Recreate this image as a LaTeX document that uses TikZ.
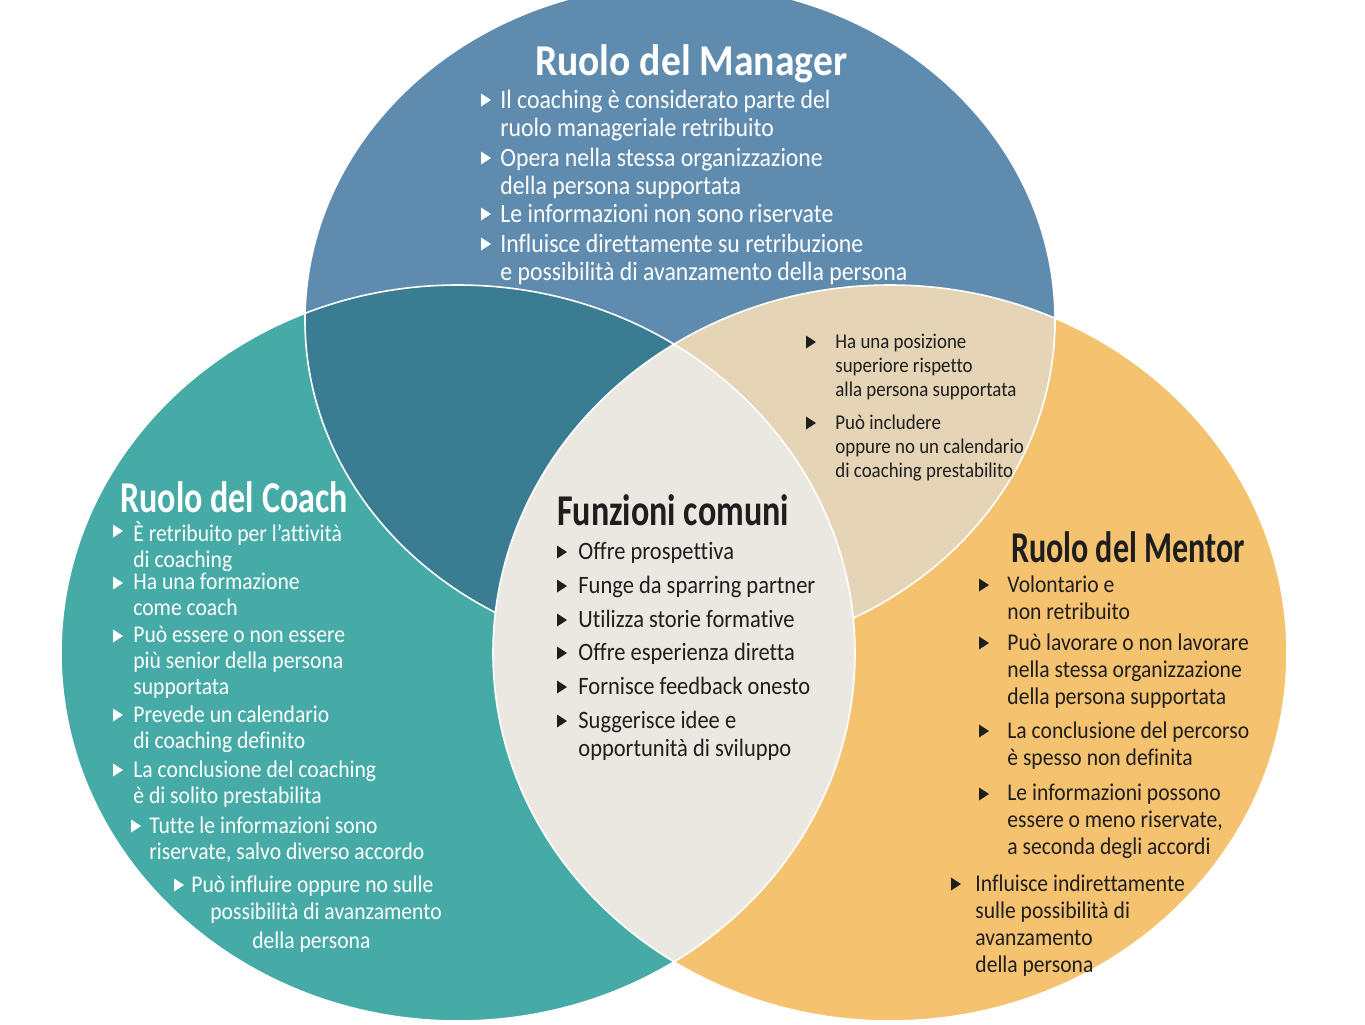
\documentclass[tikz,border=0pt]{standalone}
\usepackage{fontspec}
\setmainfont{Carlito}[FakeStretch=0.9,Ligatures={NoCommon}]
\definecolor{cblue}{HTML}{5F8BAF}
\definecolor{cteal}{HTML}{46AAA6}
\definecolor{corange}{HTML}{F5C26F}
\definecolor{cdark}{HTML}{3A7D93}
\definecolor{cbeige}{HTML}{E5D4B6}
\definecolor{clight}{HTML}{EAE8E1}
\definecolor{ctext}{HTML}{1E1E1E}
\begin{document}
\begin{tikzpicture}[x=0.5pt,y=-0.5pt,
  ttl/.style={inner sep=0pt,font=\bfseries\fontsize{22}{24}\selectfont},
  txt/.style={inner sep=0pt,anchor=north west,align=left,yshift=-2pt,font=\fontsize{12.5}{14}\selectfont},
  wt/.style={text=white}, dk/.style={text=ctext}]
\newcommand\bul[3]{\fill[#3] (#1-4,#2-6.5)--(#1-4,#2+6.5)--(#1+6,#2)--cycle;}
\useasboundingbox (0,0) rectangle (1365,1024);
\fill[white] (0,0) rectangle (1365,1024);
\def\coachE{(458,653) ellipse [x radius=198.5pt, y radius=184pt]}
\def\mentE{(890,653) ellipse [x radius=198.5pt, y radius=184pt]}
\def\manE{(680,320) ellipse [x radius=187.5pt, y radius=168pt]}
\fill[cteal] \coachE;
\fill[corange] \mentE;
\fill[cblue] \manE;
\begin{scope}\clip \coachE; \fill[cdark] \manE; \end{scope}
\begin{scope}\clip \mentE; \fill[cbeige] \manE; \end{scope}
\draw[white,line width=0.8pt] \manE;
\begin{scope}\clip \coachE; \fill[clight] \mentE; \end{scope}
\draw[white,line width=0.8pt] \coachE \mentE;

% Manager
\node[ttl,wt] (tman) at (691,64) {Ruolo del Manager};
\begin{scope}[txt/.append style={font=\fontsize{13.2}{14}\selectfont}]
\node[txt,wt] (m1) at (500,86) {Il coaching è considerato parte del\\ruolo manageriale retribuito};
\node[txt,wt] (m2) at (500,144) {Opera nella stessa organizzazione\\della persona supportata};
\node[txt,wt] (m3) at (500,200) {Le informazioni non sono riservate};
\node[txt,wt] (m4) at (500,230) {Influisce direttamente su retribuzione\\e possibilità di avanzamento della persona};
\end{scope}
\bul{485}{100}{white}\bul{485}{158}{white}\bul{485}{214}{white}\bul{485}{244}{white}

% Coach
\begin{scope}[txt/.append style={font=\fontsize{12}{13}\selectfont}]
\node[ttl,wt,anchor=west] (tco) at (120,497) {\scalebox{0.86}[1]{Ruolo del Coach}};
\node[txt,wt] (c1) at (133,517) {È retribuito per l’attività\\di coaching};
\node[txt,wt] (c2) at (133,569) {Ha una formazione\\come coach};
\node[txt,wt] (c3) at (133,622) {Può essere o non essere\\più senior della persona\\supportata};
\node[txt,wt] (c4) at (133,701) {Prevede un calendario\\di coaching definito};
\node[txt,wt] (c5) at (133,756) {La conclusione del coaching\\è di solito prestabilita};
\node[txt,wt] (c6) at (149,812) {Tutte le informazioni sono\\riservate, salvo diverso accordo};
\node[txt,wt] (c7) at (191,871) {Può influire oppure no sulle};
\node[txt,wt] (c8) at (210,898) {possibilità di avanzamento};
\node[txt,wt] (c9) at (252,927) {della persona};
\bul{117}{531}{white}\bul{117}{583}{white}\bul{117}{636}{white}\bul{117}{715}{white}\bul{117}{770}{white}\bul{135}{826}{white}\bul{178}{885}{white}
\end{scope}

% Common
\node[ttl,dk] (tcm) at (673,510) {\scalebox{0.86}[1]{Funzioni comuni}};
\node[txt,dk] (f1) at (578,538) {Offre prospettiva};
\node[txt,dk] (f2) at (578,572) {Funge da sparring partner};
\node[txt,dk] (f3) at (578,606) {Utilizza storie formative};
\node[txt,dk] (f4) at (578,639) {Offre esperienza diretta};
\node[txt,dk] (f5) at (578,673) {Fornisce feedback onesto};
\node[txt,dk] (f6) at (578,707) {Suggerisce idee e\\opportunità di sviluppo};
\foreach \yy in {552,586,620,653,687,721}{\bul{561}{\yy}{ctext}}

% Beige
\begin{scope}[txt/.append style={font=\fontsize{10.5}{12}\selectfont}]
\node[txt,dk] (b1) at (835,330) {Ha una posizione\\superiore rispetto\\alla persona supportata};
\node[txt,dk] (b2) at (835,411) {Può includere\\oppure no un calendario\\di coaching prestabilito};
\bul{810}{342}{ctext}\bul{810}{423}{ctext}
\end{scope}

% Mentor
\begin{scope}[txt/.append style={font=\fontsize{12}{13.5}\selectfont}]
\node[ttl,dk] (tme) at (1128,547) {\scalebox{0.81}[1]{Ruolo del Mentor}};
\node[txt,dk] (e1) at (1007,571) {Volontario e\\non retribuito};
\node[txt,dk] (e2) at (1007,629) {Può lavorare o non lavorare\\nella stessa organizzazione\\della persona supportata};
\node[txt,dk] (e3) at (1007,717) {La conclusione del percorso\\è spesso non definita};
\node[txt,dk] (e4) at (1007,780) {Le informazioni possono\\essere o meno riservate,\\a seconda degli accordi};
\node[txt,dk] (e5) at (975,870) {Influisce indirettamente\\sulle possibilità di\\avanzamento\\della persona};
\bul{983}{585}{ctext}\bul{983}{643}{ctext}\bul{983}{731}{ctext}\bul{983}{794}{ctext}\bul{955}{884}{ctext}
\end{scope}
\end{tikzpicture}
\end{document}
